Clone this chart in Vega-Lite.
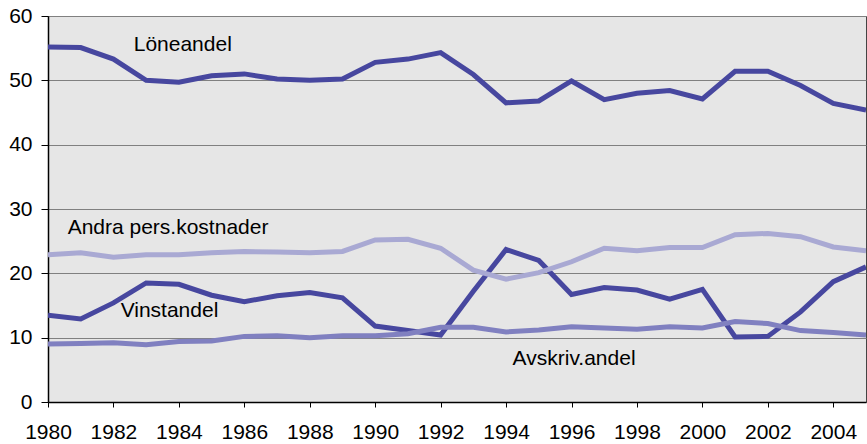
{
  "$schema": "https://vega.github.io/schema/vega-lite/v6.json",
  "width": 818,
  "height": 386,
  "autosize": {"type": "none"},
  "padding": {"left": 48, "top": 16, "right": 1, "bottom": 42},
  "background": "#ffffff",
  "config": {
    "font": "Liberation Sans",
    "view": {"fill": "#E6E6E6", "stroke": "#444444", "strokeWidth": 1}
  },
  "datasets": {
    "series": [
      {"year": 1980, "serie": "Löneandel", "value": 55.2},
      {"year": 1981, "serie": "Löneandel", "value": 55.1},
      {"year": 1982, "serie": "Löneandel", "value": 53.3},
      {"year": 1983, "serie": "Löneandel", "value": 50.0},
      {"year": 1984, "serie": "Löneandel", "value": 49.7},
      {"year": 1985, "serie": "Löneandel", "value": 50.7},
      {"year": 1986, "serie": "Löneandel", "value": 51.0},
      {"year": 1987, "serie": "Löneandel", "value": 50.2},
      {"year": 1988, "serie": "Löneandel", "value": 50.0},
      {"year": 1989, "serie": "Löneandel", "value": 50.2},
      {"year": 1990, "serie": "Löneandel", "value": 52.8},
      {"year": 1991, "serie": "Löneandel", "value": 53.3},
      {"year": 1992, "serie": "Löneandel", "value": 54.3},
      {"year": 1993, "serie": "Löneandel", "value": 50.9},
      {"year": 1994, "serie": "Löneandel", "value": 46.5},
      {"year": 1995, "serie": "Löneandel", "value": 46.8},
      {"year": 1996, "serie": "Löneandel", "value": 49.9},
      {"year": 1997, "serie": "Löneandel", "value": 47.0},
      {"year": 1998, "serie": "Löneandel", "value": 48.0},
      {"year": 1999, "serie": "Löneandel", "value": 48.4},
      {"year": 2000, "serie": "Löneandel", "value": 47.1},
      {"year": 2001, "serie": "Löneandel", "value": 51.4},
      {"year": 2002, "serie": "Löneandel", "value": 51.4},
      {"year": 2003, "serie": "Löneandel", "value": 49.2},
      {"year": 2004, "serie": "Löneandel", "value": 46.4},
      {"year": 2005, "serie": "Löneandel", "value": 45.4},
      {"year": 1980, "serie": "Vinstandel", "value": 13.5},
      {"year": 1981, "serie": "Vinstandel", "value": 12.9},
      {"year": 1982, "serie": "Vinstandel", "value": 15.4},
      {"year": 1983, "serie": "Vinstandel", "value": 18.5},
      {"year": 1984, "serie": "Vinstandel", "value": 18.3},
      {"year": 1985, "serie": "Vinstandel", "value": 16.6},
      {"year": 1986, "serie": "Vinstandel", "value": 15.6},
      {"year": 1987, "serie": "Vinstandel", "value": 16.5},
      {"year": 1988, "serie": "Vinstandel", "value": 17.0},
      {"year": 1989, "serie": "Vinstandel", "value": 16.2},
      {"year": 1990, "serie": "Vinstandel", "value": 11.8},
      {"year": 1991, "serie": "Vinstandel", "value": 11.1},
      {"year": 1992, "serie": "Vinstandel", "value": 10.4},
      {"year": 1993, "serie": "Vinstandel", "value": 17.2},
      {"year": 1994, "serie": "Vinstandel", "value": 23.7},
      {"year": 1995, "serie": "Vinstandel", "value": 22.0},
      {"year": 1996, "serie": "Vinstandel", "value": 16.7},
      {"year": 1997, "serie": "Vinstandel", "value": 17.8},
      {"year": 1998, "serie": "Vinstandel", "value": 17.4},
      {"year": 1999, "serie": "Vinstandel", "value": 16.0},
      {"year": 2000, "serie": "Vinstandel", "value": 17.5},
      {"year": 2001, "serie": "Vinstandel", "value": 10.1},
      {"year": 2002, "serie": "Vinstandel", "value": 10.2},
      {"year": 2003, "serie": "Vinstandel", "value": 14.0},
      {"year": 2004, "serie": "Vinstandel", "value": 18.7},
      {"year": 2005, "serie": "Vinstandel", "value": 21.0},
      {"year": 1980, "serie": "Andra pers.kostnader", "value": 22.9},
      {"year": 1981, "serie": "Andra pers.kostnader", "value": 23.2},
      {"year": 1982, "serie": "Andra pers.kostnader", "value": 22.5},
      {"year": 1983, "serie": "Andra pers.kostnader", "value": 22.9},
      {"year": 1984, "serie": "Andra pers.kostnader", "value": 22.9},
      {"year": 1985, "serie": "Andra pers.kostnader", "value": 23.2},
      {"year": 1986, "serie": "Andra pers.kostnader", "value": 23.4},
      {"year": 1987, "serie": "Andra pers.kostnader", "value": 23.3},
      {"year": 1988, "serie": "Andra pers.kostnader", "value": 23.2},
      {"year": 1989, "serie": "Andra pers.kostnader", "value": 23.4},
      {"year": 1990, "serie": "Andra pers.kostnader", "value": 25.2},
      {"year": 1991, "serie": "Andra pers.kostnader", "value": 25.3},
      {"year": 1992, "serie": "Andra pers.kostnader", "value": 23.9},
      {"year": 1993, "serie": "Andra pers.kostnader", "value": 20.5},
      {"year": 1994, "serie": "Andra pers.kostnader", "value": 19.1},
      {"year": 1995, "serie": "Andra pers.kostnader", "value": 20.1},
      {"year": 1996, "serie": "Andra pers.kostnader", "value": 21.8},
      {"year": 1997, "serie": "Andra pers.kostnader", "value": 23.9},
      {"year": 1998, "serie": "Andra pers.kostnader", "value": 23.5},
      {"year": 1999, "serie": "Andra pers.kostnader", "value": 24.0},
      {"year": 2000, "serie": "Andra pers.kostnader", "value": 24.0},
      {"year": 2001, "serie": "Andra pers.kostnader", "value": 26.0},
      {"year": 2002, "serie": "Andra pers.kostnader", "value": 26.2},
      {"year": 2003, "serie": "Andra pers.kostnader", "value": 25.7},
      {"year": 2004, "serie": "Andra pers.kostnader", "value": 24.1},
      {"year": 2005, "serie": "Andra pers.kostnader", "value": 23.5},
      {"year": 1980, "serie": "Avskriv.andel", "value": 9.0},
      {"year": 1981, "serie": "Avskriv.andel", "value": 9.1},
      {"year": 1982, "serie": "Avskriv.andel", "value": 9.2},
      {"year": 1983, "serie": "Avskriv.andel", "value": 8.9},
      {"year": 1984, "serie": "Avskriv.andel", "value": 9.4},
      {"year": 1985, "serie": "Avskriv.andel", "value": 9.5},
      {"year": 1986, "serie": "Avskriv.andel", "value": 10.2},
      {"year": 1987, "serie": "Avskriv.andel", "value": 10.3},
      {"year": 1988, "serie": "Avskriv.andel", "value": 10.0},
      {"year": 1989, "serie": "Avskriv.andel", "value": 10.3},
      {"year": 1990, "serie": "Avskriv.andel", "value": 10.3},
      {"year": 1991, "serie": "Avskriv.andel", "value": 10.6},
      {"year": 1992, "serie": "Avskriv.andel", "value": 11.6},
      {"year": 1993, "serie": "Avskriv.andel", "value": 11.6},
      {"year": 1994, "serie": "Avskriv.andel", "value": 10.9},
      {"year": 1995, "serie": "Avskriv.andel", "value": 11.2},
      {"year": 1996, "serie": "Avskriv.andel", "value": 11.7},
      {"year": 1997, "serie": "Avskriv.andel", "value": 11.5},
      {"year": 1998, "serie": "Avskriv.andel", "value": 11.3},
      {"year": 1999, "serie": "Avskriv.andel", "value": 11.7},
      {"year": 2000, "serie": "Avskriv.andel", "value": 11.5},
      {"year": 2001, "serie": "Avskriv.andel", "value": 12.5},
      {"year": 2002, "serie": "Avskriv.andel", "value": 12.2},
      {"year": 2003, "serie": "Avskriv.andel", "value": 11.1},
      {"year": 2004, "serie": "Avskriv.andel", "value": 10.8},
      {"year": 2005, "serie": "Avskriv.andel", "value": 10.4}
    ],
    "labels": [
      {"year": 1982.62, "value": 55.5, "text": "Löneandel"},
      {"year": 1980.6, "value": 27.1, "text": "Andra pers.kostnader"},
      {"year": 1982.22, "value": 14.2, "text": "Vinstandel"},
      {"year": 1994.2, "value": 6.7, "text": "Avskriv.andel"}
    ]
  },
  "layer": [
    {
      "data": {"name": "series"},
      "mark": {"type": "line", "strokeWidth": 5, "strokeJoin": "miter", "clip": true},
      "encoding": {
        "x": {
          "field": "year",
          "type": "quantitative",
          "scale": {"domain": [1980, 2005], "nice": false, "zero": false},
          "axis": {
            "title": null,
            "values": [1980,1981,1982,1983,1984,1985,1986,1987,1988,1989,1990,1991,1992,1993,1994,1995,1996,1997,1998,1999,2000,2001,2002,2003,2004,2005],
            "labelExpr": "datum.value % 2 == 0 && datum.value < 2005 ? datum.value : ''",
            "format": "d",
            "grid": false,
            "domainColor": "#000000",
            "domainWidth": 1.5,
            "tickColor": "#000000",
            "tickSize": 5,
            "labelFontSize": 21,
            "labelColor": "#000000",
            "labelPadding": 14,
            "labelFlush": false,
            "labelOverlap": false
          }
        },
        "y": {
          "field": "value",
          "type": "quantitative",
          "scale": {"domain": [0, 60], "nice": false},
          "axis": {
            "title": null,
            "values": [0, 10, 20, 30, 40, 50, 60],
            "grid": true,
            "gridColor": "#808080",
            "gridWidth": 1.2,
            "domainColor": "#000000",
            "domainWidth": 1.5,
            "tickColor": "#000000",
            "tickSize": 7,
            "labelFontSize": 21,
            "labelColor": "#000000",
            "labelPadding": 9
          }
        },
        "color": {
          "field": "serie",
          "type": "nominal",
          "scale": {
            "domain": ["Löneandel", "Vinstandel", "Andra pers.kostnader", "Avskriv.andel"],
            "range": ["#47479F", "#47479F", "#A9A9D3", "#8080C0"]
          },
          "legend": null
        },
        "order": {"field": "year", "type": "quantitative"}
      }
    },
    {
      "data": {"name": "labels"},
      "mark": {"type": "text", "align": "left", "baseline": "middle", "fontSize": 21, "color": "#000000"},
      "encoding": {
        "x": {"field": "year", "type": "quantitative"},
        "y": {"field": "value", "type": "quantitative"},
        "text": {"field": "text", "type": "nominal"}
      }
    }
  ]
}
